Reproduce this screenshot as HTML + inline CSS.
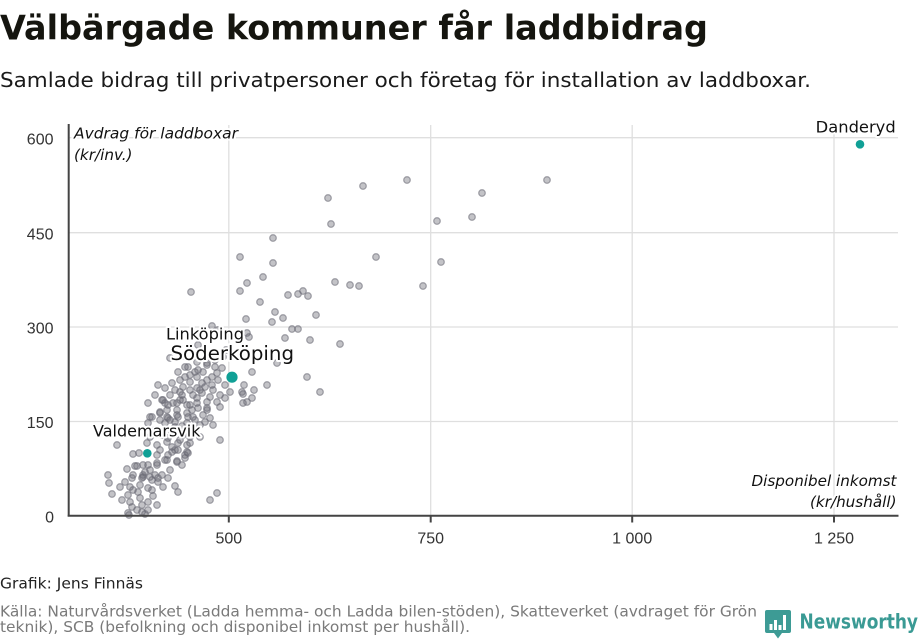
<!DOCTYPE html>
<html>
<head>
<meta charset="utf-8">
<style>
html,body{margin:0;padding:0;background:#fff;}
svg{display:block;}
.lbl{font-family:"DejaVu Sans","Liberation Sans",sans-serif;}
.num{font-family:"Liberation Sans","DejaVu Sans",sans-serif;font-size:16px;fill:#333;}
.halo{stroke:#fff;stroke-width:4;stroke-linejoin:round;paint-order:stroke;}
</style>
</head>
<body>
<svg width="920" height="640" viewBox="0 0 920 640" xmlns="http://www.w3.org/2000/svg">
<rect width="920" height="640" fill="#fff"/>

<!-- Title & subtitle -->
<text class="lbl" x="0" y="39.5" font-size="33.5" font-weight="bold" fill="#15150f" textLength="708" lengthAdjust="spacingAndGlyphs">Välbärgade kommuner får laddbidrag</text>
<text class="lbl" x="0" y="87" font-size="20" fill="#1a1a1a" textLength="811" lengthAdjust="spacingAndGlyphs">Samlade bidrag till privatpersoner och företag för installation av laddboxar.</text>

<!-- Gridlines -->
<g stroke="#dfdfdf" stroke-width="1.3" fill="none">
  <line x1="69" y1="137.7" x2="898" y2="137.7"/>
  <line x1="69" y1="232.7" x2="898" y2="232.7"/>
  <line x1="69" y1="327" x2="898" y2="327"/>
  <line x1="69" y1="421.5" x2="898" y2="421.5"/>
  <line x1="228.8" y1="125" x2="228.8" y2="516"/>
  <line x1="430.7" y1="125" x2="430.7" y2="516"/>
  <line x1="632.2" y1="125" x2="632.2" y2="516"/>
  <line x1="834" y1="125" x2="834" y2="516"/>
</g>

<!-- Axis titles -->
<g class="lbl halo" font-style="italic" font-size="15.5" fill="#111">
  <text x="74" y="138.3" textLength="164" lengthAdjust="spacingAndGlyphs">Avdrag för laddboxar</text>
  <text x="74" y="160" textLength="58.5" lengthAdjust="spacingAndGlyphs">(kr/inv.)</text>
  <text x="896.5" y="486" text-anchor="end" textLength="145" lengthAdjust="spacingAndGlyphs">Disponibel inkomst</text>
  <text x="896.5" y="507" text-anchor="end" textLength="86.5" lengthAdjust="spacingAndGlyphs">(kr/hushåll)</text>
</g>

<!-- Gray dots -->
<g fill="#6a6a74" fill-opacity="0.4" stroke="#6a6a74" stroke-opacity="0.55" stroke-width="1.3">
<circle cx="328" cy="198" r="3.3"/><circle cx="363" cy="186" r="3.3"/><circle cx="407" cy="180" r="3.3"/><circle cx="331" cy="224" r="3.3"/><circle cx="482" cy="193" r="3.3"/><circle cx="547" cy="180" r="3.3"/><circle cx="437" cy="221" r="3.3"/><circle cx="472" cy="217" r="3.3"/><circle cx="376" cy="257" r="3.3"/><circle cx="441" cy="262" r="3.3"/><circle cx="335" cy="282" r="3.3"/><circle cx="350" cy="285" r="3.3"/><circle cx="359" cy="286" r="3.3"/><circle cx="423" cy="286" r="3.3"/><circle cx="303" cy="291" r="3.3"/><circle cx="308" cy="296" r="3.3"/><circle cx="298" cy="294" r="3.3"/><circle cx="316" cy="315" r="3.3"/><circle cx="298" cy="329" r="3.3"/><circle cx="292" cy="329" r="3.3"/><circle cx="310" cy="340" r="3.3"/><circle cx="340" cy="344" r="3.3"/><circle cx="307" cy="377" r="3.3"/><circle cx="320" cy="392" r="3.3"/><circle cx="273" cy="238" r="3.3"/><circle cx="240" cy="257" r="3.3"/><circle cx="273" cy="263" r="3.3"/><circle cx="263" cy="277" r="3.3"/><circle cx="247" cy="283" r="3.3"/><circle cx="240" cy="291" r="3.3"/><circle cx="191" cy="292" r="3.3"/><circle cx="288" cy="295" r="3.3"/><circle cx="260" cy="302" r="3.3"/><circle cx="275" cy="312" r="3.3"/><circle cx="283" cy="318" r="3.3"/><circle cx="246" cy="319" r="3.3"/><circle cx="272" cy="322" r="3.3"/><circle cx="285" cy="338" r="3.3"/><circle cx="247" cy="333" r="3.3"/><circle cx="249" cy="337" r="3.3"/><circle cx="212" cy="326" r="3.3"/><circle cx="218" cy="330" r="3.3"/><circle cx="252" cy="372" r="3.3"/><circle cx="267" cy="385" r="3.3"/><circle cx="254" cy="390" r="3.3"/><circle cx="244" cy="385" r="3.3"/><circle cx="243" cy="394" r="3.3"/><circle cx="252" cy="398" r="3.3"/><circle cx="243" cy="403" r="3.3"/><circle cx="277" cy="363" r="3.3"/><circle cx="230" cy="392" r="3.3"/><circle cx="242" cy="392" r="3.3"/><circle cx="247" cy="402" r="3.3"/>
<circle cx="170" cy="358" r="3.3"/><circle cx="182" cy="356" r="3.3"/><circle cx="188" cy="367" r="3.3"/><circle cx="197" cy="362" r="3.3"/><circle cx="207" cy="363" r="3.3"/><circle cx="215" cy="360" r="3.3"/><circle cx="223" cy="357" r="3.3"/><circle cx="226" cy="350" r="3.3"/><circle cx="198" cy="345" r="3.3"/><circle cx="212" cy="352" r="3.3"/><circle cx="190" cy="375" r="3.3"/>
<circle cx="198" cy="370" r="3.3"/><circle cx="207" cy="365" r="3.3"/><circle cx="215" cy="367" r="3.3"/><circle cx="222" cy="368" r="3.3"/><circle cx="217" cy="373" r="3.3"/><circle cx="212" cy="377" r="3.3"/><circle cx="207" cy="380" r="3.3"/><circle cx="202" cy="383" r="3.3"/><circle cx="197" cy="388" r="3.3"/><circle cx="190" cy="390" r="3.3"/><circle cx="183" cy="387" r="3.3"/><circle cx="180" cy="380" r="3.3"/><circle cx="185" cy="377" r="3.3"/><circle cx="175" cy="390" r="3.3"/><circle cx="170" cy="395" r="3.3"/><circle cx="165" cy="403" r="3.3"/><circle cx="162" cy="400" r="3.3"/><circle cx="148" cy="403" r="3.3"/><circle cx="173" cy="403" r="3.3"/><circle cx="180" cy="400" r="3.3"/><circle cx="187" cy="405" r="3.3"/><circle cx="192" cy="410" r="3.3"/><circle cx="198" cy="408" r="3.3"/><circle cx="207" cy="408" r="3.3"/><circle cx="210" cy="397" r="3.3"/><circle cx="213" cy="390" r="3.3"/><circle cx="220" cy="395" r="3.3"/><circle cx="225" cy="398" r="3.3"/><circle cx="217" cy="402" r="3.3"/><circle cx="207" cy="402" r="3.3"/><circle cx="197" cy="398" r="3.3"/><circle cx="202" cy="393" r="3.3"/><circle cx="182" cy="395" r="3.3"/><circle cx="177" cy="410" r="3.3"/><circle cx="167" cy="410" r="3.3"/><circle cx="160" cy="412" r="3.3"/><circle cx="152" cy="417" r="3.3"/><circle cx="160" cy="420" r="3.3"/><circle cx="168" cy="418" r="3.3"/><circle cx="178" cy="417" r="3.3"/><circle cx="188" cy="417" r="3.3"/><circle cx="210" cy="418" r="3.3"/><circle cx="220" cy="407" r="3.3"/><circle cx="190" cy="382" r="3.3"/><circle cx="197" cy="377" r="3.3"/><circle cx="185" cy="367" r="3.3"/>
<circle cx="163" cy="400" r="3.3"/><circle cx="168" cy="405" r="3.3"/><circle cx="177" cy="403" r="3.3"/><circle cx="183" cy="400" r="3.3"/><circle cx="190" cy="405" r="3.3"/><circle cx="197" cy="403" r="3.3"/><circle cx="150" cy="417" r="3.3"/><circle cx="160" cy="413" r="3.3"/><circle cx="167" cy="417" r="3.3"/><circle cx="177" cy="415" r="3.3"/><circle cx="187" cy="413" r="3.3"/><circle cx="193" cy="417" r="3.3"/><circle cx="203" cy="415" r="3.3"/><circle cx="207" cy="410" r="3.3"/><circle cx="148" cy="423" r="3.3"/><circle cx="165" cy="423" r="3.3"/><circle cx="175" cy="427" r="3.3"/><circle cx="187" cy="423" r="3.3"/><circle cx="193" cy="428" r="3.3"/><circle cx="200" cy="425" r="3.3"/><circle cx="172" cy="433" r="3.3"/><circle cx="183" cy="435" r="3.3"/><circle cx="190" cy="437" r="3.3"/><circle cx="200" cy="437" r="3.3"/><circle cx="220" cy="440" r="3.3"/><circle cx="147" cy="443" r="3.3"/><circle cx="157" cy="445" r="3.3"/><circle cx="167" cy="442" r="3.3"/><circle cx="172" cy="447" r="3.3"/><circle cx="178" cy="443" r="3.3"/><circle cx="187" cy="445" r="3.3"/><circle cx="172" cy="452" r="3.3"/><circle cx="178" cy="450" r="3.3"/><circle cx="187" cy="452" r="3.3"/><circle cx="177" cy="461" r="3.3"/><circle cx="185" cy="458" r="3.3"/><circle cx="157" cy="455" r="3.3"/><circle cx="165" cy="460" r="3.3"/><circle cx="117" cy="445" r="3.3"/><circle cx="133" cy="475" r="3.3"/><circle cx="143" cy="475" r="3.3"/><circle cx="150" cy="477" r="3.3"/><circle cx="158" cy="478" r="3.3"/><circle cx="142" cy="478" r="3.3"/><circle cx="127" cy="469" r="3.3"/><circle cx="135" cy="466" r="3.3"/><circle cx="143" cy="465" r="3.3"/><circle cx="157" cy="463" r="3.3"/>
<circle cx="133" cy="454" r="3.3"/><circle cx="139" cy="453" r="3.3"/><circle cx="190" cy="443" r="3.3"/><circle cx="175" cy="450" r="3.3"/><circle cx="185" cy="455" r="3.3"/><circle cx="188" cy="453" r="3.3"/><circle cx="177" cy="462" r="3.3"/><circle cx="167" cy="460" r="3.3"/><circle cx="157" cy="465" r="3.3"/><circle cx="148" cy="465" r="3.3"/><circle cx="137" cy="466" r="3.3"/><circle cx="145" cy="472" r="3.3"/><circle cx="143" cy="477" r="3.3"/><circle cx="155" cy="475" r="3.3"/><circle cx="158" cy="482" r="3.3"/><circle cx="152" cy="480" r="3.3"/><circle cx="132" cy="478" r="3.3"/><circle cx="130" cy="487" r="3.3"/><circle cx="133" cy="490" r="3.3"/><circle cx="120" cy="487" r="3.3"/><circle cx="108" cy="475" r="3.3"/><circle cx="109" cy="483" r="3.3"/><circle cx="112" cy="494" r="3.3"/><circle cx="128" cy="495" r="3.3"/><circle cx="130" cy="502" r="3.3"/><circle cx="132" cy="507" r="3.3"/><circle cx="140" cy="498" r="3.3"/><circle cx="142" cy="505" r="3.3"/><circle cx="148" cy="502" r="3.3"/><circle cx="153" cy="496" r="3.3"/><circle cx="148" cy="488" r="3.3"/><circle cx="157" cy="505" r="3.3"/><circle cx="175" cy="486" r="3.3"/><circle cx="178" cy="492" r="3.3"/><circle cx="210" cy="500" r="3.3"/><circle cx="217" cy="493" r="3.3"/><circle cx="128" cy="513" r="3.3"/><circle cx="142" cy="512" r="3.3"/><circle cx="148" cy="510" r="3.3"/><circle cx="129" cy="515" r="3.3"/><circle cx="145" cy="514" r="3.3"/>
<circle cx="155" cy="395" r="3.3"/><circle cx="158" cy="385" r="3.3"/><circle cx="165" cy="388" r="3.3"/><circle cx="172" cy="383" r="3.3"/><circle cx="178" cy="372" r="3.3"/><circle cx="193" cy="395" r="3.3"/><circle cx="200" cy="390" r="3.3"/><circle cx="205" cy="387" r="3.3"/><circle cx="212" cy="385" r="3.3"/><circle cx="218" cy="380" r="3.3"/><circle cx="225" cy="385" r="3.3"/><circle cx="203" cy="372" r="3.3"/><circle cx="195" cy="372" r="3.3"/><circle cx="180" cy="392" r="3.3"/><circle cx="170" cy="420" r="3.3"/><circle cx="175" cy="422" r="3.3"/><circle cx="182" cy="426" r="3.3"/><circle cx="195" cy="420" r="3.3"/><circle cx="205" cy="422" r="3.3"/><circle cx="213" cy="425" r="3.3"/><circle cx="155" cy="430" r="3.3"/><circle cx="162" cy="435" r="3.3"/><circle cx="168" cy="438" r="3.3"/><circle cx="180" cy="440" r="3.3"/><circle cx="195" cy="432" r="3.3"/><circle cx="150" cy="437" r="3.3"/><circle cx="160" cy="450" r="3.3"/><circle cx="168" cy="455" r="3.3"/><circle cx="182" cy="465" r="3.3"/><circle cx="170" cy="470" r="3.3"/><circle cx="162" cy="475" r="3.3"/><circle cx="150" cy="470" r="3.3"/><circle cx="140" cy="485" r="3.3"/><circle cx="138" cy="492" r="3.3"/><circle cx="125" cy="482" r="3.3"/><circle cx="122" cy="500" r="3.3"/><circle cx="137" cy="510" r="3.3"/><circle cx="152" cy="490" r="3.3"/><circle cx="163" cy="487" r="3.3"/><circle cx="168" cy="478" r="3.3"/>
</g>

<!-- Axes -->
<g stroke="#444" stroke-width="2" fill="none">
  <line x1="68.7" y1="124" x2="68.7" y2="516.5"/>
  <line x1="67.7" y1="515.7" x2="898.5" y2="515.7"/>
  <line x1="228.8" y1="515.7" x2="228.8" y2="522.5"/>
  <line x1="430.7" y1="515.7" x2="430.7" y2="522.5"/>
  <line x1="632.2" y1="515.7" x2="632.2" y2="522.5"/>
  <line x1="834" y1="515.7" x2="834" y2="522.5"/>
</g>

<!-- Tick labels -->
<g class="num" text-anchor="end">
  <text x="53.5" y="144.3">600</text>
  <text x="53.5" y="239.3">450</text>
  <text x="53.5" y="333.6">300</text>
  <text x="53.5" y="428">150</text>
  <text x="54" y="522.3">0</text>
</g>
<g class="num" text-anchor="middle">
  <text x="228.8" y="543.5">500</text>
  <text x="430.7" y="543.5">750</text>
  <text x="632.2" y="543.5">1 000</text>
  <text x="834" y="543.5">1 250</text>
</g>

<!-- Highlighted dots -->
<g fill="#10a096">
  <circle cx="232" cy="377.2" r="5.6"/>
  <circle cx="147.3" cy="453.3" r="4.3"/>
  <circle cx="860" cy="144.3" r="4.3"/>
</g>

<!-- Data labels -->
<g class="lbl halo" fill="#111">
  <text x="166" y="339.3" font-size="16" textLength="78" lengthAdjust="spacingAndGlyphs">Linköping</text>
  <text x="170.5" y="360" font-size="19.5" textLength="123.5" lengthAdjust="spacingAndGlyphs">Söderköping</text>
  <text x="93" y="436.7" font-size="16" textLength="107.5" lengthAdjust="spacingAndGlyphs">Valdemarsvik</text>
  <text x="895.7" y="132.7" font-size="16" text-anchor="end" textLength="80" lengthAdjust="spacingAndGlyphs">Danderyd</text>
</g>

<!-- Footer -->
<text class="lbl" x="0" y="588.5" font-size="15" fill="#222" textLength="143" lengthAdjust="spacingAndGlyphs">Grafik: Jens Finnäs</text>
<text class="lbl" x="0" y="616.5" font-size="15" fill="#7a7a7a" textLength="757" lengthAdjust="spacingAndGlyphs">Källa: Naturvårdsverket (Ladda hemma- och Ladda bilen-stöden), Skatteverket (avdraget för Grön</text>
<text class="lbl" x="0" y="632" font-size="15" fill="#7a7a7a" textLength="470" lengthAdjust="spacingAndGlyphs">teknik), SCB (befolkning och disponibel inkomst per hushåll).</text>

<!-- Newsworthy logo -->
<path d="M767,610 h22 a2,2 0 0 1 2,2 v19 a2,2 0 0 1 -2,2 h-7 l-4,5.5 l-4,-5.5 h-7 a2,2 0 0 1 -2,-2 v-19 a2,2 0 0 1 2,-2 z" fill="#3d9b95"/>
<g fill="#fff">
  <rect x="769.5" y="624" width="3" height="6"/>
  <rect x="774" y="620" width="3" height="10"/>
  <rect x="778.5" y="625" width="3" height="5"/>
  <rect x="783" y="615" width="3" height="15"/>
</g>
<text class="lbl" x="799.5" y="628.5" font-size="20.5" font-weight="bold" fill="#3a9a94" textLength="118.5" lengthAdjust="spacingAndGlyphs">Newsworthy</text>
</svg>
</body>
</html>
